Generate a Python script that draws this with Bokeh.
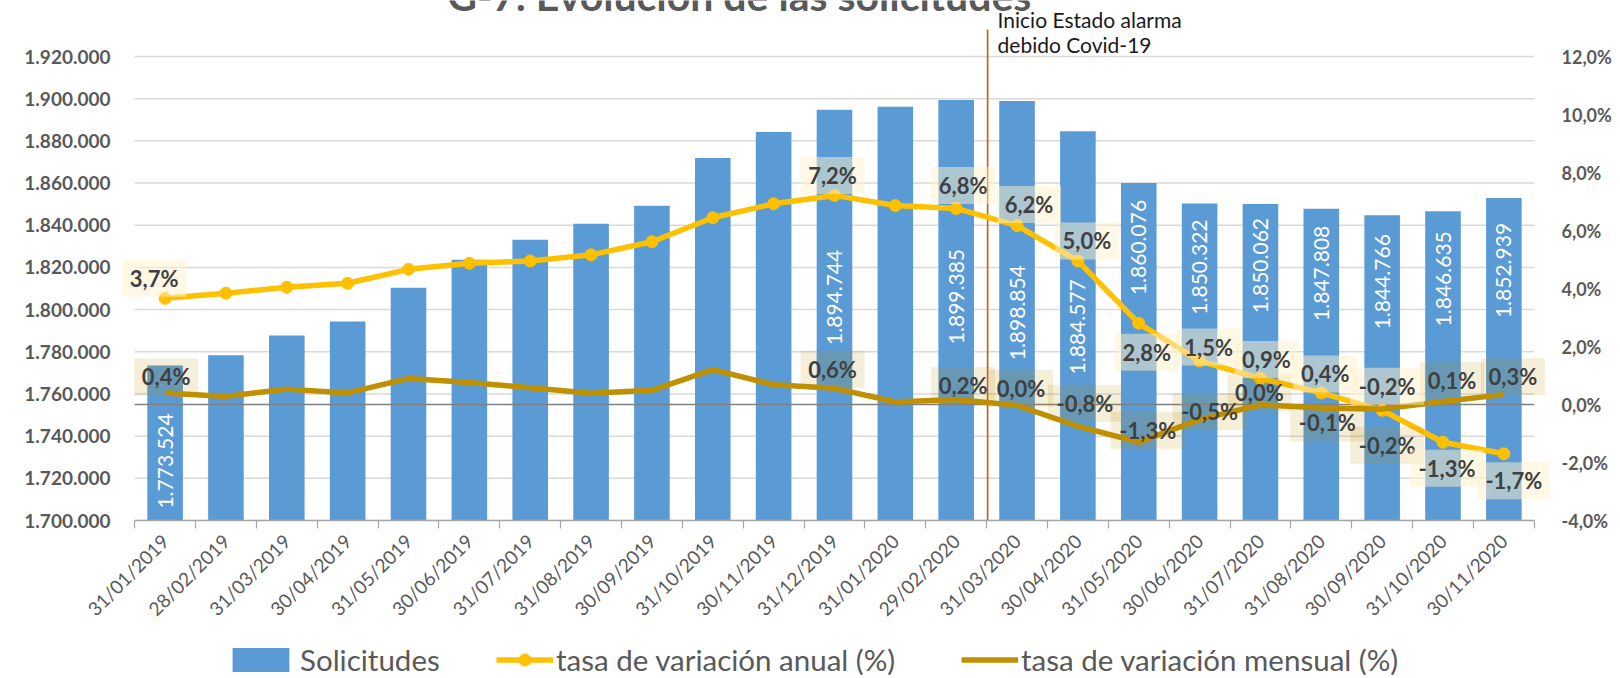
import math
from bokeh.plotting import figure
from bokeh.layouts import column
from bokeh.models import (Range1d, LinearAxis, FixedTicker, ColumnDataSource,
                          Label, Legend, LegendItem)
from bokeh.core.properties import value
from bokeh.embed import file_html
from bokeh.resources import INLINE

# ---------------- data ----------------
fechas = ["31/01/2019", "28/02/2019", "31/03/2019", "30/04/2019", "31/05/2019",
          "30/06/2019", "31/07/2019", "31/08/2019", "30/09/2019", "31/10/2019",
          "30/11/2019", "31/12/2019", "31/01/2020", "29/02/2020", "31/03/2020",
          "30/04/2020", "31/05/2020", "30/06/2020", "31/07/2020", "31/08/2020",
          "30/09/2020", "31/10/2020", "30/11/2020"]
solicitudes = [1773524, 1778300, 1787700, 1794300, 1810400, 1823600, 1833100,
               1840700, 1849200, 1871900, 1884200, 1894744, 1896200, 1899385,
               1898854, 1884577, 1860076, 1850322, 1850062, 1847808, 1844766,
               1846635, 1852939]
tasa_anual = [3.66, 3.84, 4.04, 4.18, 4.66, 4.87, 4.95, 5.16, 5.61, 6.44, 6.92,
              7.21, 6.86, 6.76, 6.17, 4.95, 2.8, 1.5, 0.9, 0.4, -0.2, -1.3, -1.7]
tasa_mensual = [0.4, 0.28, 0.53, 0.4, 0.9, 0.76, 0.58, 0.39, 0.49, 1.2, 0.68,
                0.56, 0.09, 0.17, -0.03, -0.75, -1.3, -0.52, -0.01, -0.12, -0.16,
                0.1, 0.34]
con_etiqueta = [0, 11, 13, 14, 15, 16, 17, 18, 19, 20, 21, 22]  # labelled points
evento_fecha = "31/03/2020"
evento_texto = ["Inicio Estado alarma", "debido Covid-19"]
titulo = "G-7. Evolución de las solicitudes"
serie_nombres = ["Solicitudes", "tasa de variación anual (%)",
                 "tasa de variación mensual (%)"]
y_ticks_sol = list(range(1700000, 1920001, 20000))
y_ticks_pct = list(range(-4, 13, 2))

# ---------------- layout (pixels) ----------------
W = 1620
H1, H2 = 642, 34                 # main plot, legend strip
PAD_L, PAD_R = 0.2, 0.25         # category padding left/right of the axis
CAT_PX = 60.87                   # px per category
BL = 122
FW = round((len(fechas) + PAD_L + PAD_R) * CAT_PX)
BR = W - BL - FW
BT = 0
FH = 520                         # frame height (bottom gridline at y=520)
BB = H1 - BT - FH
GAP_TOP = 56                     # px from frame top to the top gridline
EV_TOP = 27                      # event line rises this far above top gridline
TITLE_Y = -5.5                   # title anchor (px from canvas top)
bar_label_gap = [48, 140, 149, 164, 148, 17, 16, 14, 17, 19, 20, 25]
anual_dx = [-11, -2, 7, 12, 9, 8, 9, 6, 4, 5, 4, 10]
anual_dy = [20, 20, 23, 21, 20, -29, 14, 19, 19, 24, -26, -27]
mens_dx = [1, -2, 7, 4, 7, 9, 10, -1, 6, 5, 9, 9]
mens_dy = [16, 19, 14, 17, 23, 12, 8, 12, -15, -36, 21, 18]
# legend entries: glyph start (px from plot-area left), glyph width, standoff
leg_x = [103, 374, 839]
leg_gw = [71, 57, 57]
leg_so = [4, 3, 3]

N = len(fechas)
centers = [i + 0.5 for i in range(N)]
y0, y1 = y_ticks_sol[0], y_ticks_sol[-1]
p0, p1 = y_ticks_pct[0], y_ticks_pct[-1]
inner = FH - GAP_TOP
y_end = y0 + (y1 - y0) * FH / inner
p_end = p0 + (p1 - p0) * FH / inner
XPP = 1.0 / CAT_PX
SOL_PP = (y1 - y0) / inner
PCT_PP = (p1 - p0) / inner

FONT = value("Lato")
GRAY = "#595959"


def fmt_pct(v):
    r = round(v, 1)
    if abs(r) < 0.05:
        r = 0.0
    return f"{r:.1f}".replace(".", ",") + "%"


def fmt_num(v):
    return f"{v:,}".replace(",", ".")


p = figure(width=W, height=H1, output_backend="svg", toolbar_location=None,
           x_range=Range1d(-PAD_L, N + PAD_R), y_range=Range1d(y0, y_end),
           min_border_left=BL, min_border_right=BR, min_border_top=BT,
           min_border_bottom=BB)
p.extra_y_ranges = {"pct": Range1d(p0, p_end)}
p.outline_line_color = None
p.background_fill_color = "white"
p.border_fill_color = "white"
p.xgrid.visible = False
p.ygrid.visible = False

# gridlines (only across the category span)
p.segment(x0=[0] * len(y_ticks_sol), x1=[N] * len(y_ticks_sol), y0=y_ticks_sol,
          y1=y_ticks_sol, line_color="#D9D9D9", line_width=1.5)

# bars
src = ColumnDataSource(dict(x=centers, top=solicitudes))
bars = p.vbar(x="x", top="top", bottom=y0, width=0.585, source=src,
              fill_color="#5B9BD5", line_color=None)

# zero line of the secondary axis
p.segment(x0=[0], x1=[N], y0=[0], y1=[0], line_color="#808080", line_width=1.5,
          y_range_name="pct")

# event line
ev_x = fechas.index(evento_fecha) + 1 * XPP
p.segment(x0=[ev_x], x1=[ev_x], y0=[y0], y1=[y1 + EV_TOP * SOL_PP],
          line_color="#C55A11", line_width=1.6)

# lines
p.line(centers, tasa_anual, y_range_name="pct", line_color="#FFC000",
       line_width=5.5, line_join="round")
p.scatter(centers, tasa_anual, y_range_name="pct", marker="circle",
          size=12, fill_color="#FFC000", line_color="#FFC000")
p.line(centers, tasa_mensual, y_range_name="pct", line_color="#BF9000",
       line_width=5.5, line_join="round")

# bar value labels (rotated, inside bars)
bl_x = [centers[i] for i in con_etiqueta]
bl_y = [solicitudes[i] - g * SOL_PP for i, g in zip(con_etiqueta, bar_label_gap)]
bl_t = [fmt_num(solicitudes[i]) for i in con_etiqueta]
p.text(x=bl_x, y=bl_y, text=bl_t, angle=math.pi / 2, text_align="right",
       text_baseline="middle", text_color="white", text_font=FONT,
       text_font_size="21px")


def add_labels(vals, dxs, dys, box_color, box_alpha):
    lx = [centers[i] + dx * XPP for i, dx in zip(con_etiqueta, dxs)]
    ly = [vals[i] + dy * PCT_PP for i, dy in zip(con_etiqueta, dys)]
    lt = [fmt_pct(vals[i]) for i in con_etiqueta]
    bw = [64 if len(t) <= 4 else 74 for t in lt]
    p.rect(x=lx, y=ly, width=bw, height=[37] * len(lt), width_units="screen",
           height_units="screen", fill_color=box_color, fill_alpha=box_alpha,
           line_color=None, y_range_name="pct")
    p.text(x=lx, y=ly, text=lt, text_align="center", text_baseline="middle",
           text_color="#404040", text_font=FONT, text_font_style="bold",
           text_font_size="22px", y_range_name="pct")


add_labels(tasa_mensual, mens_dx, mens_dy, "#BF9000", 0.15)
add_labels(tasa_anual, anual_dx, anual_dy, "#FFF2CC", 0.5)

# axes
ya = p.yaxis[0]
ya.ticker = FixedTicker(ticks=y_ticks_sol)
ya.major_label_overrides = {t: fmt_num(t) for t in y_ticks_sol}
ya.axis_line_color = None
ya.major_tick_line_color = None
ya.minor_tick_line_color = None
ya.major_label_standoff = 6
ya.major_label_text_font = "Lato"
ya.major_label_text_font_style = "bold"
ya.major_label_text_font_size = "19px"
ya.major_label_text_color = GRAY

ra = LinearAxis(y_range_name="pct", ticker=FixedTicker(ticks=y_ticks_pct))
ra.major_label_overrides = {t: f"{t:.1f}".replace(".", ",") + "%" for t in y_ticks_pct}
ra.axis_line_color = None
ra.major_tick_line_color = None
ra.minor_tick_line_color = None
ra.major_label_standoff = 6
ra.major_label_text_font = "Lato"
ra.major_label_text_font_style = "bold"
ra.major_label_text_font_size = "18px"
ra.major_label_text_color = GRAY
p.add_layout(ra, "right")

xa = p.xaxis[0]
xa.ticker = FixedTicker(ticks=centers, minor_ticks=list(range(N + 1)))
xa.bounds = (0, N)
xa.major_label_overrides = {c: f for c, f in zip(centers, fechas)}
xa.major_label_orientation = math.pi / 4
xa.axis_line_color = "#A6A6A6"
xa.axis_line_width = 1.5
xa.major_tick_line_color = None
xa.major_tick_out = 0
xa.major_tick_in = 0
xa.minor_tick_line_color = "#A6A6A6"
xa.minor_tick_line_width = 1.2
xa.minor_tick_out = 8
xa.minor_tick_in = 0
xa.major_label_standoff = 9
xa.major_label_text_font = "Lato"
xa.major_label_text_font_size = "19px"
xa.major_label_text_color = GRAY

# annotation texts (inside the frame, which reaches the top of the canvas)
ann_x = ev_x + 10 * XPP
p.add_layout(Label(x=ann_x, y=y1 + (GAP_TOP - 18.6) * SOL_PP, text=evento_texto[0],
                   text_font="Lato", text_font_size="21px", text_color="#1a1a1a",
                   text_baseline="middle", text_align="left"))
p.add_layout(Label(x=ann_x, y=y1 + (GAP_TOP - 44.4) * SOL_PP, text=evento_texto[1],
                   text_font="Lato", text_font_size="21px", text_color="#1a1a1a",
                   text_baseline="middle", text_align="left"))
p.add_layout(Label(x=(739 - BL) * XPP - PAD_L, y=y1 + (GAP_TOP - TITLE_Y) * SOL_PP,
                   text=titulo, text_font="Lato", text_font_style="bold",
                   text_font_size="41px", text_color=GRAY,
                   text_baseline="alphabetic", text_align="center"))

# ---------------- legend strip ----------------
q = figure(width=W, height=H2, output_backend="svg", toolbar_location=None,
           x_range=Range1d(0, 1), y_range=Range1d(0, 1), x_axis_type=None,
           y_axis_type=None, min_border=0)
q.outline_line_color = None
q.xgrid.visible = False
q.ygrid.visible = False
# legend proxies, placed outside the strip's visible ranges
k_bar = q.vbar(x=[-5], top=[-5], bottom=-6, width=1, fill_color="#5B9BD5",
               line_color=None)
k_anual_l = q.line(x=[-6, -5], y=[-5, -5], line_color="#FFC000", line_width=5.5)
k_anual_s = q.scatter(x=[-5], y=[-5], marker="circle", size=12,
                      fill_color="#FFC000", line_color="#FFC000")
k_mens = q.line(x=[-6, -5], y=[-5, -5], line_color="#BF9000", line_width=5.5)

leg_renderers = [[k_bar], [k_anual_l, k_anual_s], [k_mens]]
for name, rs, lx, gw, so in zip(serie_nombres, leg_renderers, leg_x, leg_gw, leg_so):
    lg = Legend(items=[LegendItem(label=name, renderers=rs)], location="center_left",
                orientation="horizontal", glyph_width=gw, glyph_height=30,
                label_height=30, label_standoff=so, padding=0, margin=lx,
                spacing=0, border_line_color=None, background_fill_alpha=0,
                label_text_font="Lato", label_text_font_size="29.5px",
                label_text_color=GRAY, label_text_baseline="middle")
    q.add_layout(lg)

layout = column(p, q, spacing=0)
open("out.html", "w").write(file_html(layout, INLINE))
